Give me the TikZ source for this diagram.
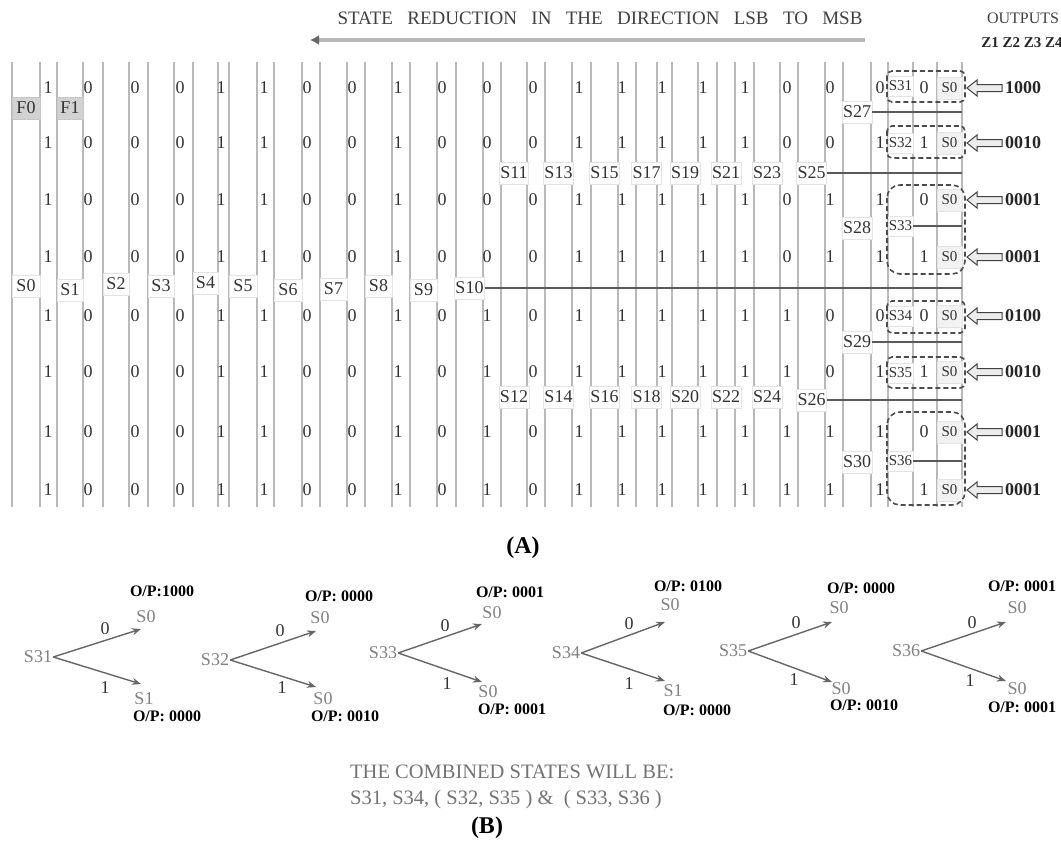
\documentclass[tikz,border=0pt]{standalone}
\usepackage{fontspec}
\setmainfont{Liberation Serif}
\usetikzlibrary{arrows.meta}
\newcommand\fsz[1]{\fontsize{#1}{#1}\selectfont}
\def\bx{{48,88,135,180,221,264,307,352,398,442,487,533,579,622,662,703,745,787,830,880,924}}
\newcommand\bitrow[3]{%
  \foreach \b [count=\c from 0] in {#3}{%
    \pgfmathsetmacro\xx{\bx[\c]}%
    \node[bit] (b#1-\c) at (\xx,#2) {\b};}}
\begin{document}
\begin{tikzpicture}[x=1pt,y=-1pt,
  vline/.style={draw=gray!55, line width=1.1pt},
  lab/.style={draw=gray!22, fill=white, inner sep=1pt, minimum height=22pt, text=black!80, font=\fsz{18}},
  flab/.style={lab, fill=gray!35, draw=gray!45},
  slab/.style={lab, font=\fsz{15}, minimum height=20pt},
  olab/.style={lab, fill=gray!10, font=\fsz{15}, minimum height=22pt},
  bit/.style={inner sep=0pt, text=black!80, font=\fsz{18}},
  hline/.style={draw=black!65, line width=1.3pt},
  dbox/.style={draw=black!70, dash pattern=on 5pt off 3pt, line width=1.6pt},
  harrow/.style={draw=black!75, fill=gray!15, line width=1pt, line join=miter},
  outlab/.style={font=\bfseries\fsz{18}, anchor=west, inner sep=0pt, text=black!85},
  plab/.style={inner sep=1pt, text=black!50, font=\fsz{18}},
  pbit/.style={inner sep=0pt, text=black!80, font=\fsz{18}},
  opl/.style={inner sep=0pt, font=\bfseries\fsz{16}},
  parr/.style={draw=black!60, line width=1.4pt, -{Stealth[length=9pt,width=7pt]}}
]
\useasboundingbox (0,0) rectangle (1061,846);

% ---------- header ----------
\node[text=black!75, font=\fsz{19}, inner sep=0pt] (title) at (600,18)
  {\makebox[525pt][s]{STATE REDUCTION IN THE DIRECTION LSB TO MSB}};
\coordinate (tr) at (865,40);
\coordinate (tl) at (310,40);
\draw[draw=gray!55, line width=3.5pt, -{Latex[length=9pt,width=10pt,color=black!60]}] (tr) -- (tl);
\node[text=black!75, font=\fsz{16}, inner sep=0pt] (outs) at (1023,18) {OUTPUTS};
\node[text=black!85, font=\bfseries\fsz{15}, inner sep=0pt] (zs) at (1022,43) {Z1 Z2 Z3 Z4};

% ---------- column lines ----------
\foreach \l/\r in {12/40,57/83,103/129,148/174,193/218,229/257,274/302,320/347,365/392,410/437,456/483,501/527,545/572,591/618,636/657,672/698,717/735,754/780,798/825,843/871,888/913,937/962}
  \draw[vline] (\l,62) -- (\l,507) (\r,62) -- (\r,507);

% ---------- state labels ----------
\node[flab, minimum width=28pt] (f0) at (26,108) {F0};
\node[flab, minimum width=26pt] (f1) at (70,108) {F1};
\foreach \n/\t/\x/\y/\w in {t0/S0/26/286/28, S1/S1/70/290/26, S2/S2/116/284/26, S3/S3/161/286/26,
  S4/S4/205.5/283/25, S5/S5/243/286/28, S6/S6/288/290/28, S7/S7/333.5/289/27, S8/S8/378.5/286/27,
  S9/S9/423.5/290/27, S10/S10/469.5/288/27,
  S11/S11/514/173/26, S12/S12/514/397/26, S13/S13/558.5/173/27, S14/S14/558.5/397/27,
  S15/S15/604.5/173/27, S16/S16/604.5/397/27, S17/S17/646.5/173/21, S18/S18/646.5/397/21,
  S19/S19/685/173/26, S20/S20/685/397/26, S21/S21/726/173/18, S22/S22/726/397/18,
  S23/S23/767/173/26, S24/S24/767/397/26, S25/S25/811.5/173/27, S26/S26/811.5/400/27,
  S27/S27/857/112/28, S28/S28/857/228/28, S29/S29/857/342/28, S30/S30/857/462/28}
  \node[lab, minimum width=\w pt] (\n) at (\x,\y) {\t};
\foreach \n/\y in {31/86, 32/143, 33/226, 34/316, 35/373, 36/461}
  \node[slab, minimum width=25pt] (S\n) at (900.5,\y) {S\n};
\foreach \k/\y in {1/88, 2/143, 3/200, 4/257, 5/316, 6/372, 7/432, 8/490}
  \node[olab, minimum width=25pt] (o\k) at (949.5,\y) {S0};

% ---------- horizontal state lines ----------
\coordinate (rx) at (962,0);
\foreach \n in {S10,S25,S26,S27,S29,S33,S36}
  \draw[hline] (\n.east) -- (\n.east -| rx);

% ---------- bits ----------
\bitrow{1}{88}{1,0,0,0,1,1,0,0,1,0,0,0,1,1,1,1,1,0,0,0,0}
\bitrow{2}{143}{1,0,0,0,1,1,0,0,1,0,0,0,1,1,1,1,1,0,0,1,1}
\bitrow{3}{200}{1,0,0,0,1,1,0,0,1,0,0,0,1,1,1,1,1,0,1,1,0}
\bitrow{4}{257}{1,0,0,0,1,1,0,0,1,0,0,0,1,1,1,1,1,0,1,1,1}
\bitrow{5}{316}{1,0,0,0,1,1,0,0,1,0,1,0,1,1,1,1,1,1,0,0,0}
\bitrow{6}{372}{1,0,0,0,1,1,0,0,1,0,1,0,1,1,1,1,1,1,0,1,1}
\bitrow{7}{432}{1,0,0,0,1,1,0,0,1,0,1,0,1,1,1,1,1,1,1,1,0}
\bitrow{8}{490}{1,0,0,0,1,1,0,0,1,0,1,0,1,1,1,1,1,1,1,1,1}

% ---------- dashed groups ----------
\draw[dbox, rounded corners=5pt] (887,71) rectangle (965,102);
\draw[dbox, rounded corners=5pt] (887,126) rectangle (965,158);
\draw[dbox, rounded corners=13pt] (887,185) rectangle (965,274);
\draw[dbox, rounded corners=5pt] (887,301) rectangle (965,333);
\draw[dbox, rounded corners=5pt] (887,357) rectangle (965,388);
\draw[dbox, rounded corners=13pt] (887,412) rectangle (965,505);

% ---------- outputs ----------
\foreach \k/\y/\v in {1/88/1000, 2/143/0010, 3/200/0001, 4/257/0001, 5/316/0100, 6/372/0010, 7/432/0001, 8/490/0001}{
  \node[outlab] (z\k) at (1005,\y) {\v};
  \coordinate (a\k) at (967,\y);
  \draw[harrow] (a\k) -- ++(10,-8) -- ++(0,4.5) -- ++(25,0) -- ++(0,7) -- ++(-25,0) -- ++(0,4.5) -- cycle;
}

\node[font=\bfseries\fsz{24}, inner sep=0pt] (capA) at (523,548) {(A)};

% ---------- part B ----------
% tree S31
\node[plab] (p31) at (38,657) {S31};
\node[plab] (p31u) at (146,617) {S0};
\node[plab] (p31d) at (144,699) {S1};
\coordinate (p31ut) at (141,629); \coordinate (p31dt) at (141,684);
\draw[parr] (p31.east) -- (p31ut);
\draw[parr] (p31.east) -- (p31dt);
\node[pbit] at (105,629) {0};
\node[pbit] at (105,688) {1};
\node[opl] (p31uo) at (162,591) {O/P:1000};
\node[opl] (p31do) at (167,716) {O/P: 0000};
% tree S32
\node[plab] (p32) at (215,660) {S32};
\node[plab] (p32u) at (320,618) {S0};
\node[plab] (p32d) at (323,699) {S0};
\coordinate (p32ut) at (316,631); \coordinate (p32dt) at (316,687);
\draw[parr] (p32.east) -- (p32ut);
\draw[parr] (p32.east) -- (p32dt);
\node[pbit] at (280,631) {0};
\node[pbit] at (282,688) {1};
\node[opl] (p32uo) at (339,596) {O/P: 0000};
\node[opl] (p32do) at (345,716) {O/P: 0010};
% tree S33
\node[plab] (p33) at (383,653) {S33};
\node[plab] (p33u) at (492,613) {S0};
\node[plab] (p33d) at (488,692) {S0};
\coordinate (p33ut) at (482,624); \coordinate (p33dt) at (482,682);
\draw[parr] (p33.east) -- (p33ut);
\draw[parr] (p33.east) -- (p33dt);
\node[pbit] at (445,626) {0};
\node[pbit] at (447,684) {1};
\node[opl] (p33uo) at (510,592) {O/P: 0001};
\node[opl] (p33do) at (512,709) {O/P: 0001};
% tree S34
\node[plab] (p34) at (566,653) {S34};
\node[plab] (p34u) at (670,605) {S0};
\node[plab] (p34d) at (673,691) {S1};
\coordinate (p34ut) at (665,622); \coordinate (p34dt) at (665,681);
\draw[parr] (p34.east) -- (p34ut);
\draw[parr] (p34.east) -- (p34dt);
\node[pbit] at (629,624) {0};
\node[pbit] at (629,684) {1};
\node[opl] (p34uo) at (688,586) {O/P: 0100};
\node[opl] (p34do) at (697,710) {O/P: 0000};
% tree S35
\node[plab] (p35) at (733,651) {S35};
\node[plab] (p35u) at (839,608) {S0};
\node[plab] (p35d) at (841,689) {S0};
\coordinate (p35ut) at (832,622); \coordinate (p35dt) at (832,682);
\draw[parr] (p35.east) -- (p35ut);
\draw[parr] (p35.east) -- (p35dt);
\node[pbit] at (796,623) {0};
\node[pbit] at (794,680) {1};
\node[opl] (p35uo) at (861,588) {O/P: 0000};
\node[opl] (p35do) at (864,705) {O/P: 0010};
% tree S36
\node[plab] (p36) at (906,651) {S36};
\node[plab] (p36u) at (1017,608) {S0};
\node[plab] (p36d) at (1017,689) {S0};
\coordinate (p36ut) at (1006,622); \coordinate (p36dt) at (1006,681);
\draw[parr] (p36.east) -- (p36ut);
\draw[parr] (p36.east) -- (p36dt);
\node[pbit] at (972,623) {0};
\node[pbit] at (970,681) {1};
\node[opl] (p36uo) at (1022,586) {O/P: 0001};
\node[opl] (p36do) at (1022,707) {O/P: 0001};

\node[anchor=west, align=left, text=black!55, font=\fsz{20.5}, inner sep=0pt] (comb) at (350,787)
  {THE COMBINED STATES WILL BE:\\[5pt] S31, S34, ( S32, S35 ) \&\ \ ( S33, S36 )};
\node[font=\bfseries\fsz{24}, inner sep=0pt] (capB) at (487,828) {(B)};
\end{tikzpicture}
\end{document}
